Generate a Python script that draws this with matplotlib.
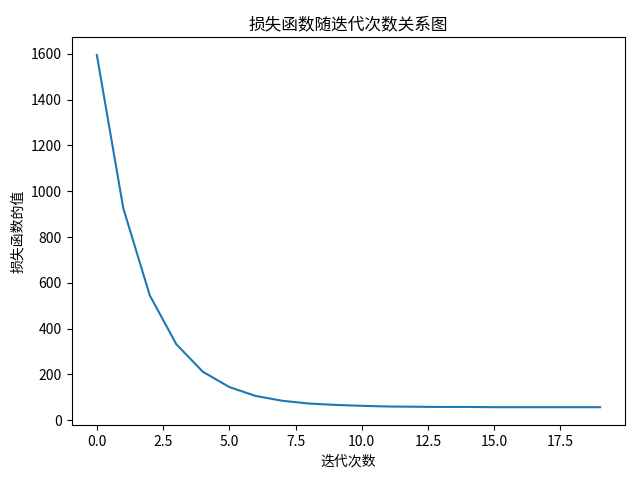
import matplotlib
matplotlib.use("Agg")
import matplotlib.pyplot as plt

plt.rcParams['font.family'] = ['Noto Sans CJK SC', 'DejaVu Sans']
plt.rcParams['axes.unicode_minus'] = False

iterations = list(range(20))
loss = [1595, 925, 545, 332, 212, 145, 106, 85, 73, 67, 63, 60, 59, 58, 58, 57, 57, 57, 57, 57]

fig, ax = plt.subplots(figsize=(6.4, 4.8), dpi=100)
ax.plot(iterations, loss)
ax.set_title("损失函数随迭代次数关系图")
ax.set_xlabel("迭代次数")
ax.set_ylabel("损失函数的值")
fig.subplots_adjust(left=0.112, right=0.977, top=0.922, bottom=0.115)
fig.savefig("out.png")
